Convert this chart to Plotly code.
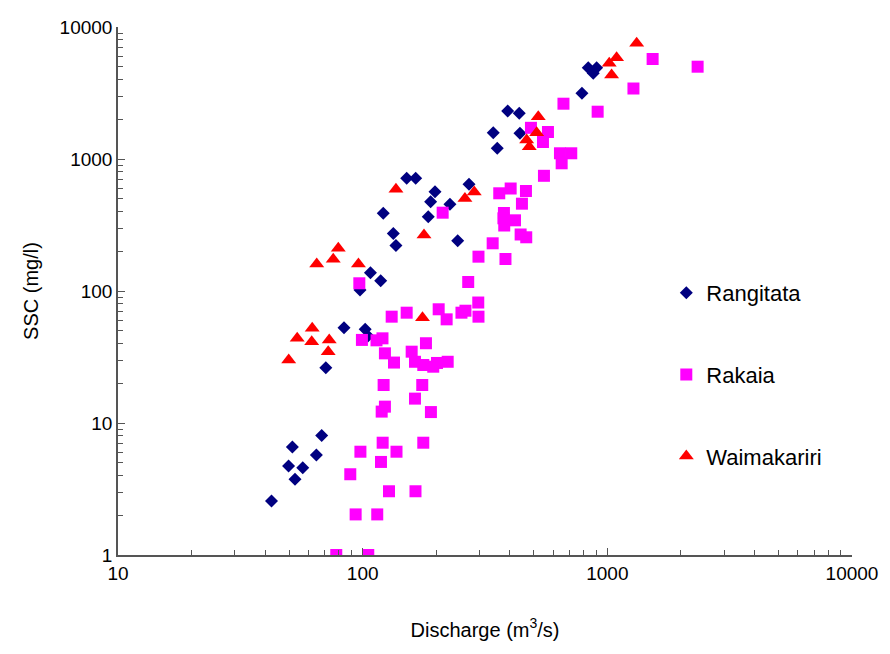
import plotly.graph_objects as go

# Rangitata (navy diamonds)
rang_q = [42.4, 51.6, 49.8, 56.9, 52.9, 64.7, 68.0, 70.7, 83.9, 97.5, 102.4, 105.1,
          107.6, 118.5, 121.4, 133.4, 136.8, 151.3, 164.7, 197.5, 189.6, 185.4, 227.4,
          244.5, 272.0, 341.8, 354.8, 391.4, 436.5, 439.4, 787.5, 835.6, 904.3, 875.8]
rang_ssc = [2.57, 6.58, 4.72, 4.59, 3.75, 5.72, 8.04, 26.2, 52.7, 101.8, 51.3, 45.6,
            137.6, 119.7, 387.8, 272.6, 221.2, 714, 714, 565, 475, 365.6, 453.6,
            240.5, 644, 1582, 1205, 2310, 2219, 1565, 3146, 4917, 4917, 4458]

# Rakaia (magenta squares)
rak_q = [78.0, 105.4, 93.6, 114.7, 89.0, 128.1, 164.4, 97.9, 137.5, 118.8, 120.7, 176.9,
         121.8, 175.2, 163.6, 123.3, 119.6, 190.1, 99.3, 113.9, 120.5, 123.3, 134.3,
         131.4, 151.3, 204.5, 220.4, 253.4, 263.1, 296.8, 297.4, 181.4, 158.6, 163.6,
         194.3, 222.6, 176.9, 201.3, 96.9, 212.3, 270.0, 297.4, 339.9, 383.4, 361.6,
         402.6, 464.9, 447.7, 377.9, 376.1, 419.3, 379.0, 442.2, 466.2, 550.8, 487.3,
         571.9, 545.7, 640.3, 712.1, 650.6, 661.7, 912.9, 1278.6, 1531.4, 2339]
rak_ssc = [1.0, 1.0, 2.03, 2.03, 4.09, 3.04, 3.04, 6.06, 6.06, 5.07, 7.09, 7.09,
           19.4, 19.4, 15.3, 13.3, 12.2, 12.1, 42.6, 42.3, 43.8, 33.7, 28.7,
           63.9, 68.5, 72.7, 61.0, 68.5, 70.9, 81.8, 63.9, 40.2, 34.7, 29.1,
           26.7, 29.1, 27.5, 28.5, 114.4, 392, 117, 182, 229.8, 174.8, 549.8,
           597.6, 572.3, 458.6, 389.8, 355.4, 343.2, 313.4, 268, 255.2, 746, 1723,
           1601, 1345, 1105, 1105, 927.8, 2624, 2282, 3420, 5722, 5003]

# Waimakariri (red triangles)
wai_q = [49.85, 54.0, 62.2, 61.9, 73.0, 72.3, 64.9, 75.8, 79.5, 96.1, 136.8, 178.1,
         175.6, 261.8, 285.8, 522.0, 514.2, 468.0, 479.6, 1018, 1091, 1041, 1318]
wai_ssc = [30.0, 43.8, 52.2, 41.3, 42.6, 34.7, 160.2, 173.9, 210.7, 160.2, 589.6, 265.6,
           62.8, 502, 562, 2092, 1582, 1393, 1240, 5309, 5852, 4328, 7522]

series_names = ["Rangitata", "Rakaia", "Waimakariri"]

fig = go.Figure()
fig.add_trace(go.Scatter(x=rang_q, y=rang_ssc, mode="markers", name=series_names[0],
                         legendgroup="a",
                         marker=dict(symbol="diamond", size=10, color="#000080", line=dict(width=0))))
fig.add_trace(go.Scatter(x=rak_q, y=rak_ssc, mode="markers", name=series_names[1],
                         legendgroup="b",
                         marker=dict(symbol="square", size=12, color="#FF00FF", line=dict(width=0))))
fig.add_trace(go.Scatter(x=wai_q, y=wai_ssc, mode="markers", name=series_names[2],
                         legendgroup="c",
                         marker=dict(symbol="triangle-up", size=13, color="#FF0000", line=dict(width=0))))

font_family = "Arial, Liberation Sans, sans-serif"
axis_common = dict(
    type="log", showgrid=False, zeroline=False, showline=True, linecolor="#555555", linewidth=1.5,
    tickmode="linear", tick0=0, dtick=1, tickformat="d", automargin=False,
    ticks="inside", ticklen=7, tickcolor="#555555", tickwidth=1,
    minor=dict(ticks="inside", dtick="D1", ticklen=5, tickcolor="#555555", tickwidth=1, showgrid=False),
    tickfont=dict(family=font_family, size=19, color="#000000"),
    mirror=False,
)

fig.update_layout(
    width=890, height=654,
    margin=dict(l=118, r=38, t=27, b=99),
    paper_bgcolor="white", plot_bgcolor="white",
    font=dict(family=font_family, color="#000000"),
    separators=". ",
    xaxis=dict(axis_common, range=[1, 4],
               title=dict(text="Discharge (m<sup>3</sup>/s)", font=dict(size=20), standoff=40)),
    yaxis=dict(axis_common, range=[0, 4],
               title=dict(text="SSC (mg/l)", font=dict(size=20), standoff=16)),
    legend=dict(x=0.747, y=0.536, xanchor="left", yanchor="top", tracegroupgap=50,
                font=dict(family=font_family, size=22, color="#000000"),
                bgcolor="rgba(0,0,0,0)", itemwidth=30),
    showlegend=True,
)

fig.write_html("out.html")
